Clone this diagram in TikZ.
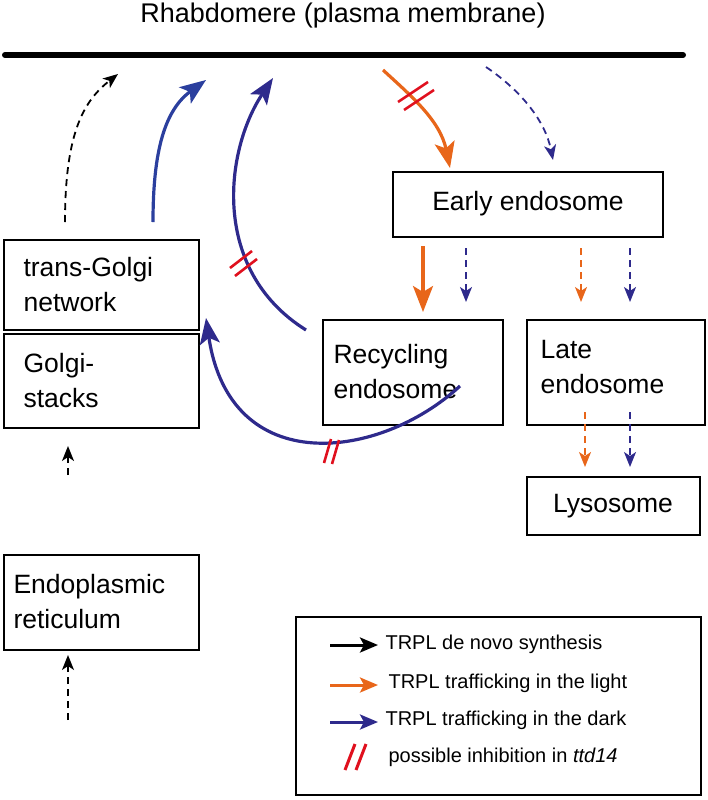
\documentclass[tikz,border=0pt]{standalone}
\usepackage{fontspec}
\setmainfont{Liberation Sans}
\usetikzlibrary{arrows.meta}
\definecolor{org}{HTML}{E8661A}
\definecolor{dblue}{HTML}{2E2A8C}
\definecolor{mblue}{HTML}{2B3F9E}
\definecolor{inh}{HTML}{E0101E}
\begin{document}
\begin{tikzpicture}[x=1pt,y=-1pt,
  boxtxt/.style={font=\fontsize{26.5}{35}\selectfont,align=left},
  big/.style={line width=3.2pt,-{Stealth[length=26pt,width=20pt,inset=6pt]}},
  small/.style={line width=1.8pt,dash pattern=on 7pt off 5pt,-{Stealth[length=15pt,width=12pt,inset=4pt]}},
  inhmark/.style={draw=inh,line width=2.6pt}]
\useasboundingbox (0,0) rectangle (708,800);
\node (title) at (343,16) {\fontsize{27}{30}\selectfont Rhabdomere (plasma membrane)};
\coordinate (ml) at (5,55); \coordinate (mr) at (683,55);
\draw[line width=6pt,line cap=round] (ml) -- (mr);
% boxes
\draw[line width=1.8pt] (4,240) rectangle (199,330); \node[boxtxt,anchor=west] (tgn) at (20,285) {trans-Golgi\\network};
\draw[line width=1.8pt] (4,334) rectangle (199,428); \node[boxtxt,anchor=west] (gs) at (20,381) {Golgi-\\stacks};
\draw[line width=1.8pt] (4,555) rectangle (199,650); \node[boxtxt,anchor=west] (er) at (10,602) {Endoplasmic\\reticulum};
\draw[line width=1.8pt] (393,172) rectangle (663,237); \node[boxtxt] (ee) at (528,204) {Early endosome};
\draw[line width=1.8pt] (323,320) rectangle (503,425); \node[boxtxt,anchor=west] (re) at (330,372) {Recycling\\endosome};
\draw[line width=1.8pt] (527,320) rectangle (705,425); \node[boxtxt,anchor=west] (le) at (537,367) {Late\\endosome};
\draw[line width=1.8pt] (527,477) rectangle (700,535); \node[boxtxt] (ly) at (613,506) {Lysosome};
% black dashed
\coordinate (b1) at (65,222); \coordinate (b2) at (118,74);
\draw[small] (b1) .. controls (65,130) and (85,100) .. (b2);
\coordinate (b3) at (68,475); \coordinate (b4) at (68,446);
\draw[small] (b3) -- (b4);
\coordinate (b5) at (68,720); \coordinate (b6) at (68,655);
\draw[small] (b5) -- (b6);
% blue from TGN
\coordinate (u1) at (153,222); \coordinate (u2) at (206,80);
\draw[big,mblue] (u1) .. controls (153,150) and (165,110) .. (u2);
% dark blue recycling -> membrane
\coordinate (r1) at (306,330); \coordinate (r2) at (273,78);
\draw[big,dblue] (r1) .. controls (210,270) and (225,150) .. (r2);
\draw[inhmark] (230,268) -- (252,251); \draw[inhmark] (235,276) -- (257,259);
% dark blue recycling -> golgi
\coordinate (g1) at (460,386); \coordinate (g2) at (206,318);
\draw[big,dblue] (g1) .. controls (380,460) and (230,480) .. (g2);
\draw[inhmark] (324,463) -- (331,439); \draw[inhmark] (332,464) -- (339,440);
% orange membrane -> early
\coordinate (o1) at (383,70); \coordinate (o2) at (450,168);
\draw[big,org] (o1) .. controls (410,95) and (440,120) .. (o2);
\draw[inhmark] (398,102) -- (428,82); \draw[inhmark] (404,110) -- (434,90);
% dashed dark blue membrane -> early
\coordinate (d1) at (486,67); \coordinate (d2) at (553,160);
\draw[small,dblue] (d1) .. controls (520,90) and (545,120) .. (d2);
% early -> recycling
\coordinate (e1) at (423,246); \coordinate (e2) at (423,312);
\draw[big,org] (e1) -- (e2);
\coordinate (e3) at (466,248); \coordinate (e4) at (466,302);
\draw[small,dblue] (e3) -- (e4);
\coordinate (e5) at (581,248); \coordinate (e6) at (581,302);
\draw[small,org] (e5) -- (e6);
\coordinate (e7) at (630,248); \coordinate (e8) at (630,302);
\draw[small,dblue] (e7) -- (e8);
\coordinate (l1) at (585,412); \coordinate (l2) at (585,467);
\draw[small,org] (l1) -- (l2);
\coordinate (l3) at (630,412); \coordinate (l4) at (630,467);
\draw[small,dblue] (l3) -- (l4);
% legend
\draw[line width=1.4pt] (296,617) rectangle (701,795);
\tikzset{leg/.style={line width=3pt,-{Stealth[length=18pt,width=15pt,inset=4pt]}},
  legt/.style={anchor=west,font=\fontsize{20}{24}\selectfont}}
\coordinate (k1) at (330,645); \coordinate (k2) at (378,645);
\draw[leg] (k1) -- (k2); \node[legt] (t1) at (382,644) {TRPL de novo synthesis};
\coordinate (k3) at (330,685); \coordinate (k4) at (378,685);
\draw[leg,org] (k3) -- (k4); \node[legt] (t2) at (385,683) {TRPL trafficking in the light};
\coordinate (k5) at (330,722); \coordinate (k6) at (378,722);
\draw[leg,dblue] (k5) -- (k6); \node[legt] (t3) at (382,720) {TRPL trafficking in the dark};
\draw[inhmark,line width=3pt] (345,770) -- (355,744); \draw[inhmark,line width=3pt] (356,770) -- (366,744);
\node[legt] (t4) at (385,757) {possible inhibition in \textit{ttd14}};
\end{tikzpicture}
\end{document}
